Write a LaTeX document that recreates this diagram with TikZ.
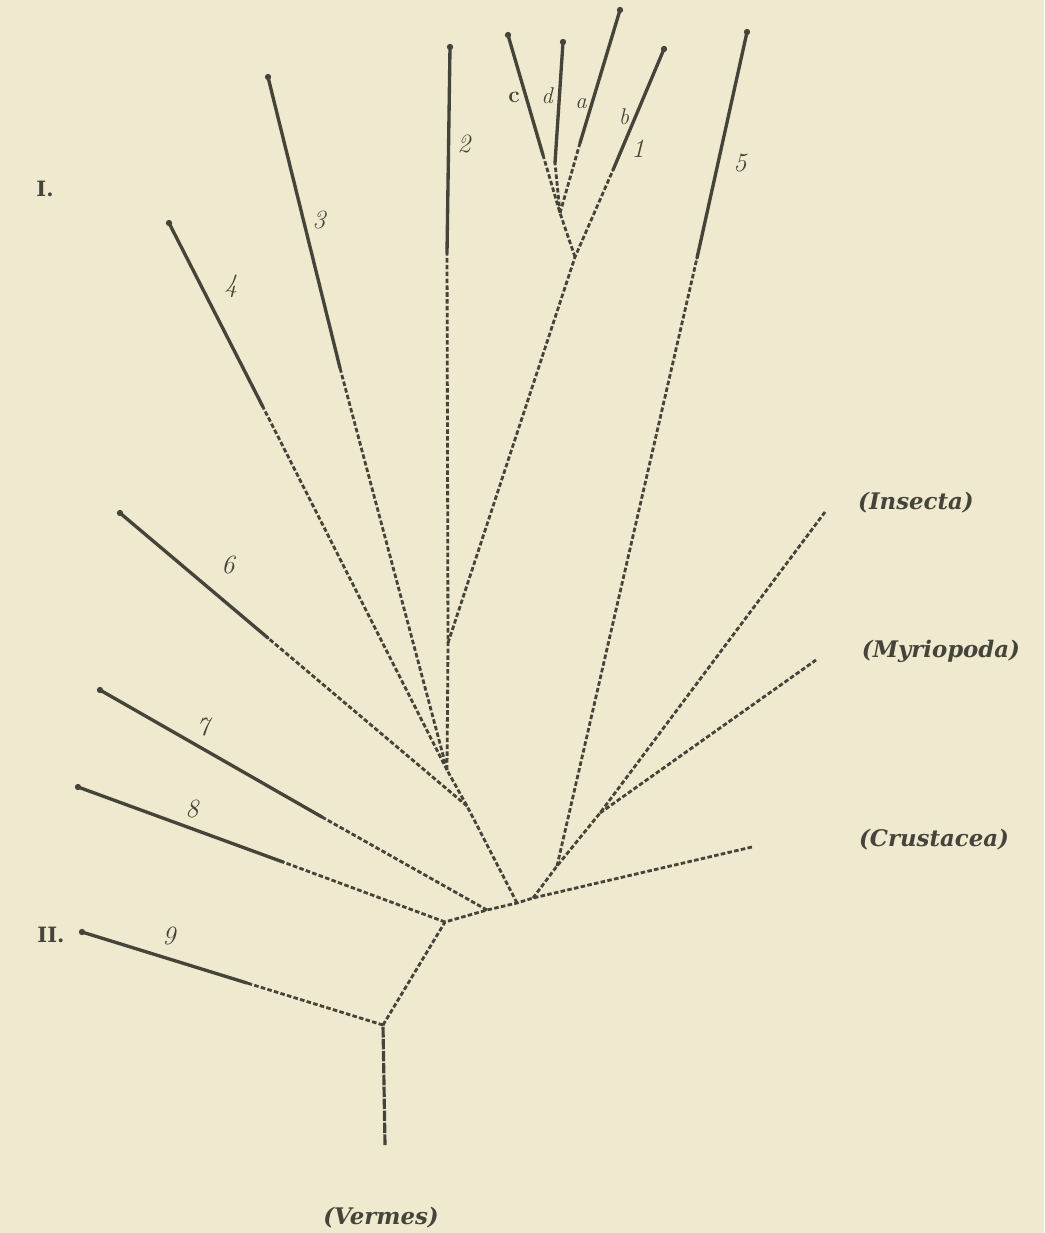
\documentclass[tikz,border=0pt]{standalone}
\usepackage{fontspec}
\newfontfamily\clarfont{DejaVu Serif}
\usetikzlibrary{positioning}
\definecolor{paper}{HTML}{EFEACF}
\definecolor{ink}{HTML}{45443A}

\begin{document}
\begin{tikzpicture}[x=0.02cm, y=-0.02cm]
    \tikzstyle{stem} = [draw=ink, line width=1.9pt, line cap=round]
    \tikzstyle{trace} = [draw=ink, line width=1.6pt, dash pattern=on 2.6pt off 1.3pt]
    \tikzstyle{trunk} = [draw=ink, line width=1.8pt, dash pattern=on 6pt off 0.8pt]
    \tikzstyle{num} = [text=ink, font=\fontsize{15}{18}\selectfont\itshape]
    \tikzstyle{letter} = [text=ink, font=\fontsize{13}{16}\selectfont\itshape]
    \tikzstyle{group} = [text=ink, font=\clarfont\fontsize{13}{15}\selectfont\bfseries\itshape]
    \tikzstyle{series} = [text=ink, font=\clarfont\fontsize{12}{15}\selectfont\bfseries]

    \fill [paper] (0,0) rectangle (1044,1233);
    \useasboundingbox (0,0) rectangle (1044,1233);

    \coordinate (root) at (385,1145);
    \coordinate (nodeE) at (383,1025);
    \coordinate (nodeA) at (445,922);
    \coordinate (nodeB) at (487,910);
    \coordinate (nodeC) at (517,903);
    \coordinate (nodeD) at (533,898);
    \coordinate (nodeJ) at (557,866);
    \coordinate (nodeL) at (600,813);
    \coordinate (nodeI) at (467,806);
    \coordinate (nodeH) at (447,770);
    \coordinate (nodeK) at (448,643);
    \coordinate (nodeG) at (575,257);
    \coordinate (nodeF) at (560,213);

    \coordinate (crus) at (752,847);
    \coordinate (myr) at (816,660);
    \coordinate (ins) at (825,512);

    \coordinate (tipC) at (508,35);   \coordinate (endC) at (543,155);
    \coordinate (tipD) at (563,42);   \coordinate (endD) at (555,163);
    \coordinate (tipA) at (620,10);   \coordinate (endA) at (580,143);
    \coordinate (tip1) at (664,49);   \coordinate (end1) at (613,170);
    \coordinate (tip2) at (450,47);   \coordinate (end2) at (447,253);
    \coordinate (tip3) at (268,77);   \coordinate (end3) at (340,368);
    \coordinate (tip4) at (169,223);  \coordinate (end4) at (263,407);
    \coordinate (tip5) at (747,32);   \coordinate (end5) at (697,258);
    \coordinate (tip6) at (120,513);  \coordinate (end6) at (268,638);
    \coordinate (tip7) at (100,690);  \coordinate (end7) at (322,817);
    \coordinate (tip8) at (78,787);   \coordinate (end8) at (283,862);
    \coordinate (tip9) at (82,932);   \coordinate (end9) at (247,983);

    \draw [trunk] (root) -- (nodeE);
    \draw [trace] (nodeE) -- (nodeA) -- (nodeB) -- (nodeC) -- (nodeD) -- (crus);
    \draw [trace] (nodeD) -- (nodeJ) -- (nodeL) -- (ins);
    \draw [trace] (nodeL) -- (myr);
    \draw [trace] (nodeC) -- (nodeI) -- (nodeH) -- (nodeK) -- (end2);
    \draw [trace] (nodeK) -- (nodeG) -- (end1);
    \draw [trace] (nodeG) -- (nodeF) -- (endC);
    \draw [trace] (nodeF) -- (endD);
    \draw [trace] (nodeF) -- (endA);
    \draw [trace] (nodeH) -- (end3);
    \draw [trace] (nodeH) -- (end4);
    \draw [trace] (nodeJ) -- (end5);
    \draw [trace] (nodeI) -- (end6);
    \draw [trace] (nodeB) -- (end7);
    \draw [trace] (nodeA) -- (end8);
    \draw [trace] (nodeE) -- (end9);

    \foreach \b in {C,D,A,1,2,3,4,5,6,7,8,9} {
        \draw [stem] (tip\b) -- (end\b);
        \fill [ink] (tip\b) circle (1.8pt);
    }

    \node [letter, font=\fontsize{13}{16}\selectfont\bfseries] (labC) at (514,97) {c};
    \node [letter] (labD) at (547,96) {d};
    \node [letter] (labA) at (581,104) {a};
    \node [letter] (labB) at (624,117) {b};
    \node [num] (lab1) at (638,149) {1};
    \node [num] (lab2) at (464,144) {2};
    \node [num] (lab3) at (319,220) {3};
    \node [num] (lab4) at (231,286) {4};
    \node [num] (lab5) at (740,163) {5};
    \node [num] (lab6) at (228,565) {6};
    \node [num] (lab7) at (203,727) {7};
    \node [num] (lab8) at (192,809) {8};
    \node [num] (lab9) at (169,936) {9};

    \node [series] (first) at (45,189) {I.};
    \node [series] (second) at (51,935) {II.};

    \node [group] (insecta) at (916,503) {(Insecta)};
    \node [group] (myriopoda) at (941,651) {(Myriopoda)};
    \node [group] (crustacea) at (934,840) {(Crustacea)};
    \node [group] (vermes) at (381,1218) {(Vermes)};
\end{tikzpicture}
\end{document}
